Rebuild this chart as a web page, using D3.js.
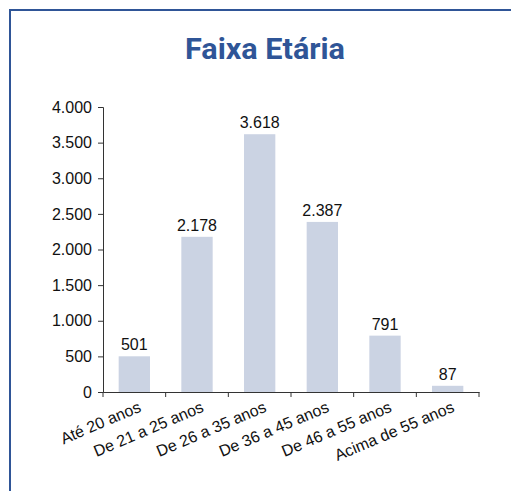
<!DOCTYPE html>
<html><head><meta charset="utf-8">
<script src="https://cdn.jsdelivr.net/npm/d3@7"></script>
<style>
html,body{margin:0;padding:0;background:#fff;}
svg{display:block;}
</style></head>
<body>
<script>
const categories = ["Até 20 anos","De 21 a 25 anos","De 26 a 35 anos","De 36 a 45 anos","De 46 a 55 anos","Acima de 55 anos"];
const values = [501, 2178, 3618, 2387, 791, 87];
const yTicks = [0,500,1000,1500,2000,2500,3000,3500,4000];
const title = "Faixa Etária";

(function(){
const W = 511, H = 491;
const svg = d3.select("body").append("svg").attr("width", W).attr("height", H);

// frame
svg.append("rect").attr("x",10).attr("y",10).attr("width",520).attr("height",500)
  .attr("fill","none").attr("stroke","#2f5597").attr("stroke-width",2);

svg.append("text").attr("x",265).attr("y",59).attr("text-anchor","middle")
  .attr("font-family","Roboto, 'Liberation Sans', sans-serif").attr("font-weight","bold")
  .attr("font-size",30).attr("fill","#2f5597").attr("textLength",160).attr("lengthAdjust","spacingAndGlyphs")
  .text(title);

const loc = d3.formatLocale({decimal:",", thousands:".", grouping:[3], currency:["R$",""]});
const fmt = loc.format(",d");

const mLeft = 103, mRight = 479, mTop = 107, mBottom = 392;
const x = d3.scaleBand().domain(categories).range([mLeft,mRight]).paddingInner(0.5).paddingOuter(0.25);
const y = d3.scaleLinear().domain([0,4000]).range([mBottom,mTop]);

const font = "'Liberation Sans', Arial, sans-serif";
const fs = 16;

// bars
svg.selectAll("rect.bar").data(values).join("rect").attr("class","bar")
  .attr("x",(d,i)=>x(categories[i])).attr("width",x.bandwidth())
  .attr("y",d=>y(d)).attr("height",d=>mBottom-y(d)).attr("fill","#cbd3e3");

// value labels
svg.selectAll("text.val").data(values).join("text").attr("class","val")
  .attr("x",(d,i)=>x(categories[i])+x.bandwidth()/2).attr("y",d=>y(d)-6)
  .attr("text-anchor","middle").attr("font-family",font).attr("font-size",fs).attr("fill","#111")
  .text(d=>fmt(d));

// y axis
const ya = svg.append("g").attr("transform",`translate(${mLeft},0)`)
  .call(d3.axisLeft(y).tickValues(yTicks).tickFormat(fmt).tickSize(5).tickPadding(6));
ya.selectAll("text").attr("font-family",font).attr("font-size",fs).attr("fill","#111");
ya.selectAll("line,path").attr("stroke","#333");

// x axis
const xa = svg.append("g").attr("transform",`translate(0,${mBottom})`)
  .call(d3.axisBottom(x).tickSize(0).tickFormat(""));
xa.select("path").attr("stroke","#333");
const step = x.step();
const bounds = d3.range(categories.length+1).map(i=>mLeft+i*step);
svg.selectAll("line.xt").data(bounds).join("line").attr("class","xt")
  .attr("x1",d=>d).attr("x2",d=>d).attr("y1",mBottom).attr("y2",mBottom+5).attr("stroke","#333");

// x labels
svg.selectAll("text.cat").data(categories).join("text").attr("class","cat")
  .attr("transform",d=>`translate(${x(d)+x.bandwidth()/2+3},${mBottom+8}) rotate(-23)`)
  .attr("text-anchor","end").attr("dy","0.75em")
  .attr("font-family",font).attr("font-size",fs).attr("fill","#111").text(d=>d);
})();
</script>
</body></html>
